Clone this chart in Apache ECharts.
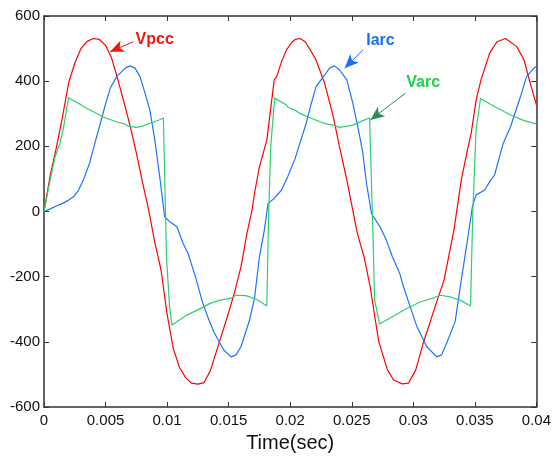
<!DOCTYPE html>
<html>
<head>
<meta charset="utf-8">
<script src="https://cdn.jsdelivr.net/npm/echarts@6/dist/echarts.min.js"></script>
<style>html,body{margin:0;padding:0;background:#fff;}#c{width:554px;height:459px;}</style>
</head>
<body>
<div id="c"></div>
<script>
// x ticks / y ticks
var xTicks = [0, 0.005, 0.01, 0.015, 0.02, 0.025, 0.03, 0.035, 0.04];
var yTicks = [-600, -400, -200, 0, 200, 400, 600];

// Vpcc [time, value]
var vpccData = [[0,0],[0.0005,110],[0.001,195],[0.0015,290],[0.002,395],[0.0025,455],[0.003,500],[0.0035,522],[0.004,531],[0.0045,528],[0.005,510],[0.0055,470],[0.006,405],[0.0065,335],[0.007,262],[0.0075,180],[0.008,90],[0.0085,5],[0.009,-95],[0.0095,-178],[0.01,-315],[0.0105,-420],[0.011,-478],[0.0115,-510],[0.012,-527],[0.0125,-530],[0.013,-525],[0.0135,-490],[0.014,-430],[0.0145,-370],[0.015,-310],[0.0155,-245],[0.016,-170],[0.0165,-65],[0.0169,5],[0.0171,56],[0.0175,137],[0.0181,219],[0.0185,342],[0.0187,404],[0.0189,414],[0.0193,460],[0.0197,496],[0.0201,518],[0.0204,528],[0.0208,531],[0.0212,522],[0.0216,498],[0.0221,465],[0.0228,393],[0.0235,291],[0.024,199],[0.0246,97],[0.0254,-57],[0.0256,-87],[0.026,-139],[0.0265,-231],[0.0269,-330],[0.0272,-400],[0.0279,-486],[0.0284,-517],[0.0291,-529],[0.0296,-527],[0.0302,-486],[0.0308,-405],[0.0316,-312],[0.0325,-210],[0.0333,-57],[0.0339,97],[0.0344,189],[0.0347,240],[0.0351,342],[0.0355,404],[0.0362,486],[0.0368,521],[0.0375,531],[0.0384,506],[0.039,465],[0.0395,393],[0.04,327]];

// Iarc [time, value]
var iarcData = [[0,0],[0.0005,8],[0.001,17],[0.0015,25],[0.002,35],[0.0024,45],[0.0028,65],[0.0032,97],[0.0037,148],[0.0041,205],[0.0045,260],[0.005,330],[0.0054,380],[0.0059,414],[0.0066,440],[0.007,447],[0.0074,440],[0.0078,414],[0.0083,352],[0.0086,311],[0.009,220],[0.0094,107],[0.0098,-16],[0.0102,-31],[0.0108,-47],[0.0113,-98],[0.0117,-128],[0.0123,-200],[0.0129,-282],[0.0134,-333],[0.0138,-370],[0.0146,-425],[0.0152,-446],[0.0156,-440],[0.016,-415],[0.0167,-333],[0.0171,-266],[0.0175,-139],[0.0179,-57],[0.0182,25],[0.0187,40],[0.0193,66],[0.0198,107],[0.0204,163],[0.0213,271],[0.0217,330],[0.0221,383],[0.0228,419],[0.0232,440],[0.0236,447],[0.024,435],[0.0246,404],[0.0251,330],[0.0256,240],[0.0259,179],[0.0262,86],[0.0266,-6],[0.0273,-47],[0.0278,-87],[0.0283,-139],[0.0289,-190],[0.0292,-231],[0.0303,-354],[0.0311,-415],[0.0319,-446],[0.0323,-440],[0.0327,-405],[0.0334,-338],[0.0339,-210],[0.0344,-88],[0.0348,15],[0.0351,51],[0.0358,66],[0.0363,97],[0.0366,112],[0.0373,209],[0.0379,260],[0.0387,352],[0.0392,414],[0.0398,440],[0.04,444]];

// Varc [time, value]
var varcData = [[0,0],[0.0005,97],[0.0009,168],[0.0013,209],[0.0016,260],[0.002,350],[0.0022,344],[0.003,328],[0.0032,322],[0.0033,316],[0.004,306],[0.005,287],[0.006,274],[0.0066,268],[0.0068,262],[0.0075,258],[0.008,262],[0.0086,271],[0.0093,280],[0.0097,287],[0.0098,288],[0.00995,-140],[0.0102,-292],[0.0104,-348],[0.011,-333],[0.0116,-318],[0.0127,-298],[0.0135,-282],[0.0143,-272],[0.0152,-266],[0.0156,-257],[0.0164,-258],[0.0173,-270],[0.0181,-290],[0.01825,-5],[0.01842,199],[0.01874,348],[0.0197,327],[0.0198,320],[0.0204,311],[0.0208,301],[0.0219,283],[0.0229,269],[0.0235,265],[0.024,258],[0.0251,265],[0.0259,279],[0.02645,287],[0.02672,-67],[0.02686,-272],[0.02726,-345],[0.0284,-321],[0.0295,-297],[0.0306,-277],[0.0316,-266],[0.0322,-257],[0.033,-262],[0.0338,-272],[0.03465,-290],[0.03483,-6],[0.0351,250],[0.03546,347],[0.0366,322],[0.0379,296],[0.039,279],[0.04,269]];

// annotations: label anchor (left, middle), arrow tail, arrow head (data coords)
var annotations = [
  {name: 'Vpcc', text: [0.00744, 529], tail: [0.00725, 521], head: [0.00536, 490], color: '#ff1010', arrow: '#ff1010'},
  {name: 'Iarc', text: [0.02618, 525], tail: [0.02591, 496], head: [0.02442, 440], color: '#1a6eff', arrow: '#1a6eff'},
  {name: 'Varc', text: [0.02943, 396], tail: [0.02937, 363], head: [0.02651, 281], color: '#1fd04a', arrow: '#2e8a58'}
];

var colors = {Vpcc: '#ff0000', Iarc: '#1c74ff', Varc: '#2ecf6e'};
var seriesData = {Vpcc: vpccData, Iarc: iarcData, Varc: varcData};

var axisLineStyle = {color: '#333', width: 1.5};
var font = 'Liberation Sans, Arial, sans-serif';

function arrowMark(a) {
  return {
    silent: true,
    animation: false,
    symbol: ['none', 'arrow'],
    symbolSize: [9, 14],
    label: {show: false},
    lineStyle: {color: a.arrow, width: 1, type: 'solid'},
    emphasis: {disabled: true},
    data: [[{coord: a.tail}, {coord: a.head}]]
  };
}

var chart = echarts.init(document.getElementById('c'), null, {renderer: 'canvas'});
var series = annotations.map(function (a) {
  return {
    name: a.name,
    type: 'line',
    data: seriesData[a.name],
    showSymbol: false,
    symbol: 'none',
    animation: false,
    lineStyle: {color: colors[a.name], width: 1.2},
    itemStyle: {color: colors[a.name]},
    markLine: arrowMark(a)
  };
});

chart.setOption({
  animation: false,
  backgroundColor: '#fff',
  grid: {left: 44, right: 17, top: 16, bottom: 52, containLabel: false},
  xAxis: [{
    type: 'value', min: xTicks[0], max: xTicks[xTicks.length - 1], interval: 0.005,
    position: 'bottom',
    name: 'Time(sec)', nameLocation: 'middle', nameGap: 26,
    nameTextStyle: {fontFamily: font, fontSize: 20, color: '#111'},
    axisLine: {show: true, onZero: false, lineStyle: axisLineStyle},
    axisTick: {show: true, inside: true, length: 5, lineStyle: {color: '#333', width: 1}},
    axisLabel: {show: true, margin: 6, fontFamily: font, fontSize: 15, color: '#111',
      formatter: function (v) { return String(+v.toFixed(3)); }},
    splitLine: {show: false}
  }, {
    type: 'value', min: xTicks[0], max: xTicks[xTicks.length - 1], interval: 0.005,
    position: 'top',
    axisLine: {show: true, onZero: false, lineStyle: axisLineStyle},
    axisTick: {show: true, inside: true, length: 5, lineStyle: {color: '#333', width: 1}},
    axisLabel: {show: false},
    splitLine: {show: false}
  }],
  yAxis: [{
    type: 'value', min: yTicks[0], max: yTicks[yTicks.length - 1], interval: 200,
    position: 'left',
    axisLine: {show: true, onZero: false, lineStyle: axisLineStyle},
    axisTick: {show: true, inside: true, length: 5, lineStyle: {color: '#333', width: 1}},
    axisLabel: {show: true, margin: 4, fontFamily: font, fontSize: 15, color: '#111'},
    splitLine: {show: false}
  }, {
    type: 'value', min: yTicks[0], max: yTicks[yTicks.length - 1], interval: 200,
    position: 'right',
    axisLine: {show: true, onZero: false, lineStyle: axisLineStyle},
    axisTick: {show: true, inside: true, length: 5, lineStyle: {color: '#333', width: 1}},
    axisLabel: {show: false},
    splitLine: {show: false}
  }],
  series: series
});

var graphics = annotations.map(function (a) {
  var p = chart.convertToPixel({xAxisIndex: 0, yAxisIndex: 0}, a.text);
  return {
    type: 'text', x: p[0], y: p[1], silent: true,
    style: {text: a.name, fill: a.color, fontFamily: font, fontWeight: 'bold', fontSize: 16,
      align: 'left', verticalAlign: 'middle'}
  };
});
chart.setOption({graphic: graphics});
</script>
</body>
</html>
